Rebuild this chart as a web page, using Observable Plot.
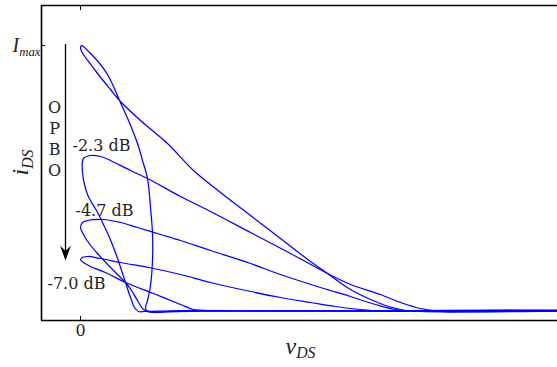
<!DOCTYPE html>
<html><head><meta charset="utf-8">
<script src="https://cdn.jsdelivr.net/npm/d3@7"></script>
<script src="https://cdn.jsdelivr.net/npm/@observablehq/plot@0.6"></script>
<style>body{margin:0;background:#fff}#chart svg{display:block}</style>
</head><body><div id="chart"></div>
<script>
// ---- data (v_DS, i_DS in arbitrary units; Imax = 265) ----
const seriesNames = ["0 dB", "-2.3 dB", "-4.7 dB", "-7.0 dB"];
const loop0V = [0,0.12,0.35,0.8,1.4,2.1,3.0,3.9,6.0,8.7,11.3,14.0,17.0,20.0,23.0,24.7,27,29,30.5,32,34,36,40,44,48,52,44,37,27,17,9,7.5,6.7,6.5,6.7,7.0,7.2,7.2,7.0,6.7,6.2,5.7,4.8,3.9,3.3,2.7,2.0,1.3,0.7,0.3,0.1];
const loop0I = [263,259,255,249,241,232,221,210,190,167,140,118,95,72,49,37,21,11,5,1,-1,-1,0,0,0,0,-0.5,-1,-0.5,0,-1,-2,-1,2,10,25,50,77,103,132,150,167,190,210,224,236,246,254,260,264,265];
const loop1V = [0.17,0.3,1.0,2.0,3.0,5.0,6.7,10,13,17,21,24.7,27,30,32,34,36,39,52,42,22,10,6.5,5.8,5.4,5.0,4.5,3.6,2.9,2.2,1.6,1.1,0.7,0.35,0.2];
const loop1I = [147,152,155,154,150,140,132,114,99,78,57,37,26,16,8,2,-1,-1,0,0,-0.5,0,-1,-1,3,13,28,55,73,88,100,108,116,128,138];
const loop2V = [0,0.2,0.7,2.3,4.0,5.7,8,10,13,17,20,24,27,29.5,31.5,34,52,32,12,7,6.3,5.7,5.1,4.5,3.3,1.7,0.8,0.3];
const loop2I = [83,88,90,91,88,83,76,70,60,47,36,23,14,6,1,-1,0,0,-0.5,-1,1,10,20,28,40,57,68,76];
const loop3V = [0,0.2,0.7,2,4,7.3,10,13,17,20,23,25.5,28,30,52,32,17,12.5,11.3,10,7.3,4.5,2.7,1.0,0.3];
const loop3I = [51,53,54,52,48,42,36,28,19,13,8,4,1,-0.5,0,0,-0.5,0,1,6,17,28,37,44,48];

const xTicks = [0];
const xTickLabels = ["0"];
const yTicks = [265];
const yTickLabels = ["I_max"];
const xTitle = "v_DS";
const yTitle = "i_DS";

const annoText = ["-2.3 dB", "-4.7 dB", "-7.0 dB"];
const annoV = [-0.8, -0.5, -3.3];
const annoI = [165, 100, 27];
const opboText = ["O\nP\nB\nO"];
const opboV = [-2.6];
const opboI = [172.5];
const arrowV = [-1.5];
const arrowFrom = [266];
const arrowTo = [50];

const xDomain = [-3.9, 47.7];
const yDomain = [-10, 305];

// ---- build tables ----
const loops = [[loop0V, loop0I], [loop1V, loop1I], [loop2V, loop2I], [loop3V, loop3I]];
const pts = loops.flatMap(([vs, is], s) => vs.map((v, k) => ({s: seriesNames[s], v, i: is[k]})));
const anno = annoText.map((t, k) => ({t, v: annoV[k], i: annoI[k]}));

const stealth = {
  draw(ctx, size) {
    const s = Math.sqrt(size / Math.PI) / 10;
    ctx.moveTo(0, 0);
    ctx.lineTo(-5.5 * s, -15 * s);
    ctx.lineTo(0, -9.5 * s);
    ctx.lineTo(5.5 * s, -15 * s);
    ctx.closePath();
  }
};

const serif = "'DejaVu Serif', serif";
const mathFont = "'Liberation Serif', 'DejaVu Serif', serif";

const chart = Plot.plot({
  width: 557, height: 367,
  marginLeft: 41, marginRight: 0, marginTop: 5, marginBottom: 47,
  x: {domain: xDomain, axis: null},
  y: {domain: yDomain, axis: null},
  style: {background: "#fff"},
  marks: [
    Plot.line(pts, {x: "v", y: "i", z: "s", stroke: "#0000ff", strokeWidth: 1.25, curve: "catmull-rom-closed", clip: true}),
    Plot.ruleY([yDomain[1]], {stroke: "#000", strokeWidth: 1.6}),
    Plot.ruleY([yDomain[0]], {stroke: "#000", strokeWidth: 1.6}),
    Plot.ruleX([xDomain[0]], {stroke: "#000", strokeWidth: 1.6}),
    Plot.axisX(xTicks, {anchor: "bottom", label: null, tickSize: -4, tickPadding: 8, tickFormat: d => xTickLabels[xTicks.indexOf(d)], fontSize: 16, fontFamily: serif, fill: "#222"}),
    Plot.axisX(xTicks, {anchor: "top", label: null, tickSize: -4, tickFormat: () => ""}),
    Plot.axisY(yTicks, {anchor: "left", label: null, tickSize: -4, tickPadding: 5, tickFormat: d => yTickLabels[yTicks.indexOf(d)], fontSize: 20, fontFamily: mathFont, fill: "#222"}),
    Plot.text(anno, {x: "v", y: "i", text: "t", textAnchor: "start", fontSize: 16, fontFamily: serif, fill: "#222"}),
    Plot.text(opboText, {x: opboV, y: opboI, text: d => d, lineHeight: 1.3, fontSize: 16, fontFamily: serif, fill: "#222"}),
    Plot.ruleX(arrowV, {x: d => d, y1: arrowFrom[0], y2: arrowTo[0] + 8, stroke: "#000", strokeWidth: 1.3}),
    Plot.dot(arrowV, {x: d => d, y: arrowTo[0], r: 10, symbol: stealth, fill: "#000", stroke: null}),
    Plot.text([xTitle], {x: [22], frameAnchor: "bottom", dy: 33, text: d => d, fontSize: 24, fontFamily: mathFont, fill: "#222"}),
    Plot.text([yTitle], {y: [148], frameAnchor: "left", textAnchor: "middle", dx: -21, rotate: -90, text: d => d, fontSize: 24, fontFamily: mathFont, fill: "#222"})
  ]
});

// turn "a_b" labels into italic base + subscript
d3.select(chart).selectAll("text").each(function () {
  const t = this.textContent;
  const m = t.match(/^([^_]+)_([^_]+)$/);
  if (!m) return;
  const el = d3.select(this);
  const small = m[2] === "max" ? "0.64em" : "0.66em";
  el.text(null);
  el.append("tspan").attr("font-style", "italic").text(m[1]);
  el.append("tspan").attr("font-style", "italic").attr("font-size", small).attr("dy", "0.3em").text(m[2]);
});

document.getElementById("chart").appendChild(chart);
</script>
</body></html>
